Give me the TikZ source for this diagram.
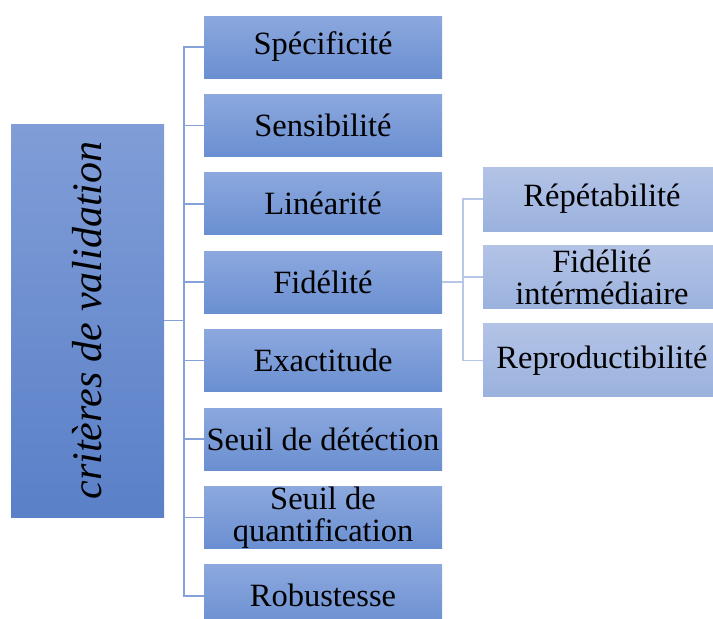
\documentclass[tikz,border=0pt]{standalone}
\usepackage{fontspec}
\setmainfont{Liberation Serif}
\usetikzlibrary{positioning}
\definecolor{crittop}{HTML}{809DD7}
\definecolor{critbot}{HTML}{5A80C8}
\definecolor{midtop}{HTML}{8CA8DE}
\definecolor{midbot}{HTML}{6A8FD1}
\definecolor{sidetop}{HTML}{B3C3E6}
\definecolor{sidebot}{HTML}{9BB2DE}
\definecolor{midlink}{HTML}{86A1D9}
\definecolor{sidelink}{HTML}{B7C7E8}
\newcommand{\twoline}[3]{\parbox[c][#1][c]{236pt}{\centering #2\\#3}}

\begin{document}
\begin{tikzpicture}[x=1pt,y=1pt,
  every node/.style={inner sep=0pt,font=\fontsize{32.5}{32}\selectfont},
  critbox/.style={rotate=90,minimum width=393pt,minimum height=153pt,
    top color=crittop,bottom color=critbot,
    font=\fontsize{42}{44}\selectfont\itshape},
  midbox/.style={minimum width=238pt,minimum height=62pt,top color=midtop,bottom color=midbot},
  sidebox/.style={minimum width=238pt,minimum height=64pt,top color=sidetop,bottom color=sidebot},
  midline/.style={draw=midlink,line width=1.5pt},
  sideline/.style={draw=sidelink,line width=1.5pt}]
\useasboundingbox (0,0) rectangle (713,-619);

\node[critbox] (crit) at (87.5,-320.5) {critères de validation};

\node[midbox] (spec) at (323,-47) {Spécificité};
\node[midbox,below=16pt of spec] (sens) {Sensibilité};
\node[midbox,below=16pt of sens] (lin) {Linéarité};
\node[midbox,below=16pt of lin] (fid) {Fidélité};
\node[midbox,below=16pt of fid] (exa) {Exactitude};
\node[midbox,below=16pt of exa] (sdet) {Seuil de détéction};
\node[midbox,below=16pt of sdet] (squa) {\twoline{62pt}{Seuil de}{quantification}};
\node[midbox,below=16pt of squa] (rob) {Robustesse};

\node[sidebox] (rep) at (602,-199) {Répétabilité};
\node[sidebox,below=14pt of rep,minimum height=63pt] (fint) {\twoline{63pt}{Fidélité}{intérmédiaire}};
\node[sidebox,below=15pt of fint,minimum height=73pt] (repro) {Reproductibilité};

\draw[midline] (crit.south) -- ++(20pt,0) coordinate (hub);
\draw[midline] (spec.west) -- ++(-20pt,0) |- (rob.west);
\foreach \n in {sens,lin,fid,exa,sdet,squa}
  \draw[midline] (\n.west) -- ++(-20pt,0);

\draw[sideline] (fid.east) -- ++(21pt,0);
\draw[sideline] (rep.west) -- ++(-20pt,0) |- (repro.west);
\draw[sideline] (fint.west) -- ++(-20pt,0);
\end{tikzpicture}
\end{document}
